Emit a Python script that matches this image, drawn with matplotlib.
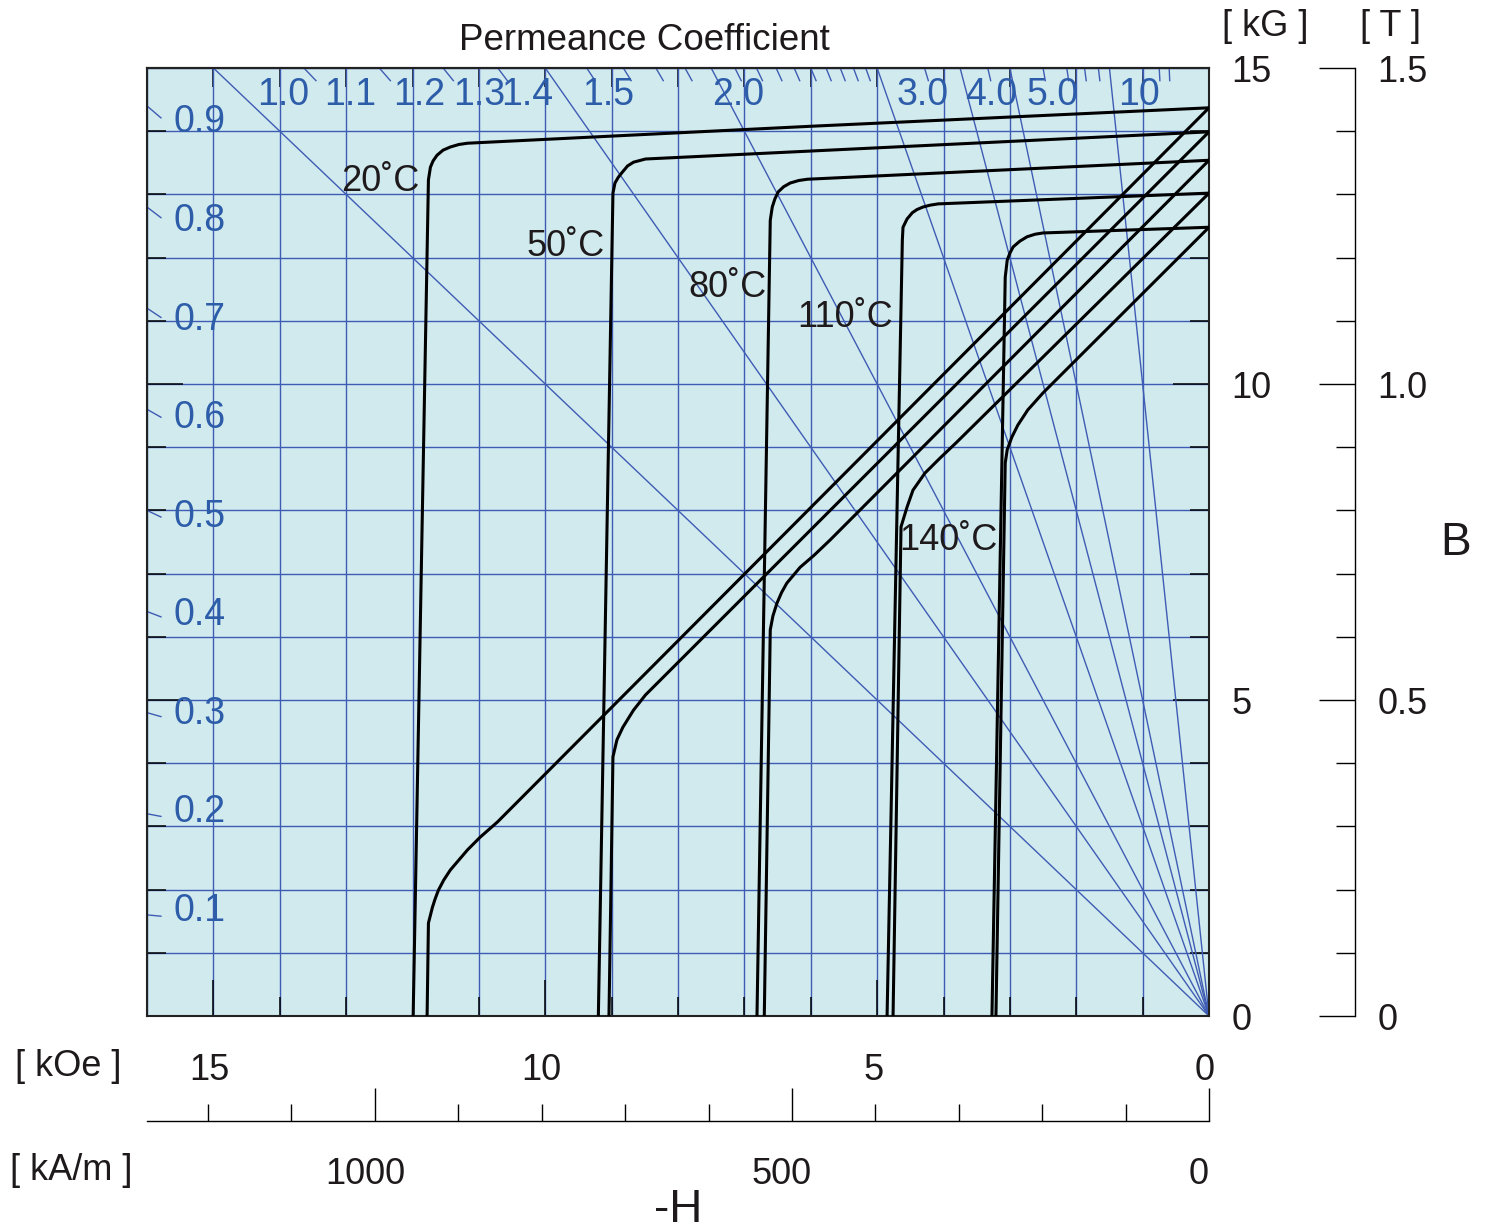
import numpy as np
import matplotlib
matplotlib.use("Agg")
import matplotlib.pyplot as plt
import matplotlib.transforms as mtransforms

plt.rcParams['font.family'] = ['Liberation Sans', 'DejaVu Sans']

# --- data (H in kOe, B/J in kG) ---
temps = ['20˚C', '50˚C', '80˚C', '110˚C', '140˚C']

# intrinsic curves
h_j20 = [0, 5.96, 11.17, 11.30, 11.43, 11.54, 11.63, 11.69, 11.73, 11.76, 11.99]
b_j20 = [14.37, 14.08, 13.81, 13.79, 13.75, 13.70, 13.62, 13.53, 13.43, 13.23, 0]
h_j50 = [0, 8.49, 8.67, 8.76, 8.84, 8.90, 8.95, 8.98, 9.20]
b_j50 = [13.99, 13.56, 13.51, 13.45, 13.35, 13.27, 13.18, 13.02, 0]
h_j80 = [0, 6.05, 6.18, 6.31, 6.41, 6.49, 6.54, 6.58, 6.61, 6.81]
b_j80 = [13.54, 13.24, 13.22, 13.18, 13.12, 13.04, 12.93, 12.80, 12.59, 0]
h_j110 = [0, 4.08, 4.20, 4.31, 4.40, 4.47, 4.55, 4.61, 4.62, 4.85]
b_j110 = [13.02, 12.85, 12.83, 12.80, 12.76, 12.71, 12.61, 12.48, 12.28, 0]
h_j140 = [0, 2.50, 2.62, 2.74, 2.85, 2.95, 3.00, 3.04, 3.07, 3.27]
b_j140 = [12.48, 12.39, 12.37, 12.33, 12.26, 12.17, 12.07, 11.96, 11.69, 0]

# normal curves
h_n20 = [0, 10.72, 10.98, 11.17, 11.30, 11.43, 11.53, 11.61, 11.66, 11.70, 11.76, 11.78]
b_n20 = [14.37, 3.07, 2.83, 2.63, 2.47, 2.31, 2.15, 1.99, 1.85, 1.72, 1.47, 0]
h_n50 = [0, 8.49, 8.67, 8.83, 8.92, 8.98, 9.04]
b_n50 = [13.99, 5.08, 4.84, 4.57, 4.37, 4.10, 0]
h_n80 = [0, 5.71, 5.95, 6.16, 6.36, 6.44, 6.51, 6.57, 6.61, 6.70]
b_n80 = [13.54, 7.53, 7.29, 7.10, 6.85, 6.70, 6.53, 6.33, 6.11, 0]
h_n110 = [0, 3.80, 4.05, 4.28, 4.46, 4.55, 4.64, 4.76]
b_n110 = [13.02, 9.08, 8.83, 8.59, 8.32, 8.05, 7.74, 0]
h_n140 = [0, 2.50, 2.73, 2.88, 2.97, 3.04, 3.07, 3.21]
b_n140 = [12.48, 9.86, 9.59, 9.35, 9.16, 8.96, 8.75, 0]

# label anchors for temperatures (H, B)
temp_h = [12.48, 9.70, 7.26, 5.48, 3.93]
temp_b = [13.21, 12.17, 11.53, 11.06, 7.52]

# permeance coefficient lines
pc_full = [1.0, 1.5, 2.0, 3.0, 4.0, 5.0, 10.0]
pc_top_marks = [1.1, 1.2, 1.3, 1.4, 1.6, 1.7, 1.8, 1.9, 2.1, 2.2, 2.3, 2.4,
                2.5, 2.6, 2.7, 2.8, 2.9, 3.5, 4.5, 6, 7, 8, 9, 15, 20, 25]
pc_left = [0.1, 0.2, 0.3, 0.4, 0.5, 0.6, 0.7, 0.8, 0.9]
pc_top_labels = ['1.0', '1.1', '1.2', '1.3', '1.4', '1.5', '2.0', '3.0', '4.0', '5.0', '10']
pc_top_label_h = [13.95, 12.94, 11.9, 11.0, 10.27, 9.05, 7.1, 4.32, 3.28, 2.35, 1.05]

KOE_TO_KAM = 1000 / (4 * np.pi)

blue = '#3f5cb4'
txtblue = '#2d5ca9'
ink = '#1e1a1b'
W, H = 1489, 1230

fig = plt.figure(figsize=(W / 100, H / 100), dpi=100)
ax = fig.add_axes([147 / W, 1 - 1016 / H, 1062 / W, 948 / H])
ax.set_facecolor('#d0eaee')
ax.set_xlim(16, 0)
ax.set_ylim(0, 15)

ax.set_xticks([0, 5, 10, 15])
ax.set_xticklabels(['0', '5', '10', '15'])
ax.set_xticks(np.arange(0, 17, 1), minor=True)
ax.set_yticks([0, 5, 10, 15])
ax.set_yticklabels(['0', '5', '10', '15'])
ax.set_yticks(np.arange(0, 16, 1), minor=True)
ax.grid(which='both', color=blue, lw=1.0)
ax.set_axisbelow(True)

ax.tick_params(axis='x', which='major', direction='in', length=26, width=1.1,
               bottom=True, top=False, labelsize=26, pad=27, labelcolor=ink)
ax.tick_params(axis='x', which='minor', direction='in', length=13.5, width=1.1,
               bottom=True, top=False)
ax.tick_params(axis='y', which='major', direction='in', length=26, width=1.1,
               left=True, right=True, labelleft=False, labelright=True,
               labelsize=26, pad=16, labelcolor=ink)
ax.tick_params(axis='y', which='minor', direction='in', length=13.5, width=1.1,
               left=True, right=True)
for s in ax.spines.values():
    s.set_linewidth(1.5)
    s.set_color('#222222')

off = mtransforms.ScaledTranslation(-4 / 100, 0, fig.dpi_scale_trans)
for lab in ax.get_xticklabels():
    lab.set_transform(lab.get_transform() + off)

sec = ax.secondary_xaxis('top')
sec.set_xticks(np.arange(0, 17, 1))
sec.tick_params(direction='in', length=13.5, width=1.1, labeltop=False)
sec.spines['top'].set_linewidth(1.5)

# permeance lines
for pc in pc_full:
    ax.plot([0, 15 / pc], [0, 15], color=blue, lw=1.0, zorder=2)
for pc in pc_top_marks:
    ax.plot([14.8 / pc, 15 / pc], [14.8, 15], color=blue, lw=1.0, zorder=2)
for pc in pc_left:
    ax.plot([15.79, 16], [15.79 * pc, 16 * pc], color=blue, lw=1.0, zorder=2)

for lab, h in zip(pc_top_labels, pc_top_label_h):
    ax.text(h, 14.57, lab, color=txtblue, fontsize=27, ha='center', va='center', zorder=5)
for pc in pc_left:
    ax.text(15.6, 0.1 + 15.6 * pc, f'{pc:.1f}', color=txtblue, fontsize=27,
            ha='left', va='center', zorder=5)

# demagnetization curves
curves = [(h_j20, b_j20), (h_n20, b_n20), (h_j50, b_j50), (h_n50, b_n50),
          (h_j80, b_j80), (h_n80, b_n80), (h_j110, b_j110), (h_n110, b_n110),
          (h_j140, b_j140), (h_n140, b_n140)]
for hh, bb in curves:
    ax.plot(hh, bb, color='black', lw=2.2, solid_joinstyle='round', zorder=4)

for t, h, b in zip(temps, temp_h, temp_b):
    ax.text(h, b, t, color=ink, fontsize=26, ha='center', va='center', zorder=6)

# tesla axis
ax_t = fig.add_axes([1345 / W, 1 - 1016 / H, 10 / W, 948 / H])
ax_t.set_facecolor('none')
ax_t.set_ylim(0, 1.5)
ax_t.set_xticks([])
for k in ['left', 'top', 'bottom']:
    ax_t.spines[k].set_visible(False)
ax_t.spines['right'].set_linewidth(1.0)
ax_t.yaxis.tick_right()
ax_t.set_yticks([0, 0.5, 1.0, 1.5])
ax_t.set_yticklabels(['0', '0.5', '1.0', '1.5'])
ax_t.set_yticks(np.arange(0, 1.51, 0.1), minor=True)
ax_t.tick_params(axis='y', which='major', direction='in', length=26, width=1.0,
                 labelsize=26, pad=16, labelcolor=ink)
ax_t.tick_params(axis='y', which='minor', direction='in', length=13.5, width=1.0)

# kA/m axis
ax_k = fig.add_axes([147 / W, 1 - 1121 / H, 1062 / W, 10 / H])
ax_k.set_facecolor('none')
ax_k.set_xlim(16 * KOE_TO_KAM, 0)
ax_k.set_yticks([])
for k in ['left', 'top', 'right']:
    ax_k.spines[k].set_visible(False)
ax_k.spines['bottom'].set_linewidth(1.0)
ax_k.set_xticks([0, 500, 1000])
ax_k.set_xticklabels(['0', '500', '1000'])
ax_k.set_xticks(np.arange(0, 1300, 100), minor=True)
ax_k.tick_params(axis='x', which='major', direction='in', length=24, width=1.0,
                 labelsize=26, pad=26, labelcolor=ink)
ax_k.tick_params(axis='x', which='minor', direction='in', length=12, width=1.0)
off2 = mtransforms.ScaledTranslation(-10 / 100, 0, fig.dpi_scale_trans)
for lab in ax_k.get_xticklabels():
    lab.set_transform(lab.get_transform() + off2)

# labels
def ftext(x, y, s, size=26):
    fig.text(x / W, 1 - y / H, s, fontsize=size, color=ink, ha='center', va='center')

ftext(644, 40, 'Permeance Coefficient', 26.5)
ftext(1265, 27, '[ kG ]')
ftext(1391, 27, '[ T ]')
ftext(1456, 543, 'B', 33)
ftext(68, 1067, '[ kOe ]')
ftext(71, 1170, '[ kA/m ]')
ftext(678, 1210, '-H', 33)

fig.savefig('out.png', dpi=100)
